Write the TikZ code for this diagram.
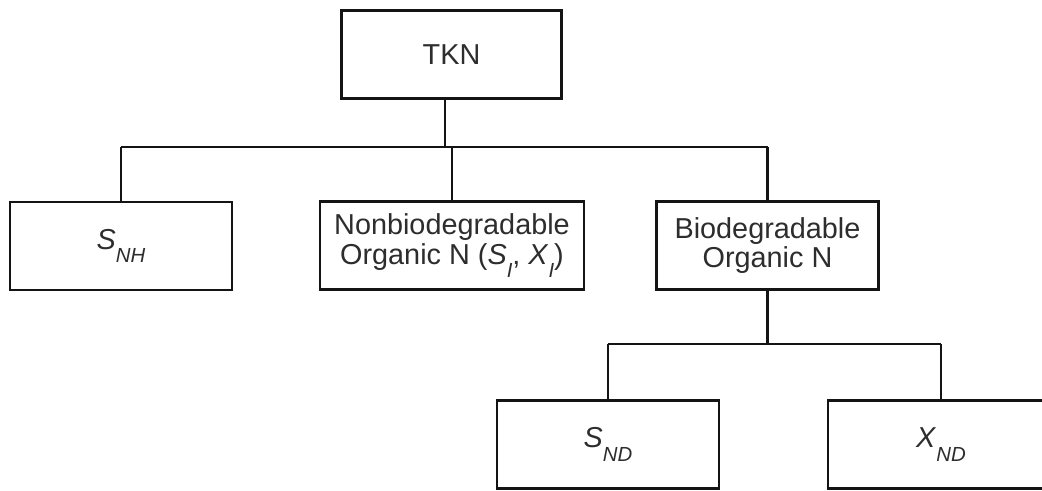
\documentclass[tikz,border=0pt]{standalone}
\usepackage{fontspec}
\setmainfont{Liberation Sans}
\usetikzlibrary{positioning,calc}
\definecolor{ink}{RGB}{20,20,20}
\definecolor{txt}{RGB}{45,45,45}
\newcommand{\lowsub}[1]{\raisebox{-9.5pt}{\fontsize{14.5}{15}\selectfont\itshape #1}}
\tikzset{
  blk/.style={draw=ink,line width=1.5pt,minimum height=2.2cm,inner sep=2pt,align=center,text=txt,
    font=\fontsize{20.5}{21}\selectfont},
  wire/.style={draw=ink,line width=1.5pt}
}

\begin{document}
\begin{tikzpicture}[x=0.025cm,y=0.025cm]
  \clip (0,0) rectangle (1042,-491);
  \node[blk,minimum width=5.5cm] (tkn) at (451.5,-54.5) {TKN};
  \node[blk,minimum width=5.55cm] (snh) at (121,-246) {\textit{S}\lowsub{NH}};
  \node[blk,minimum width=6.6cm] (nonbio) at (452,-245.5) {Nonbiodegradable\\Organic N (\textit{S}\lowsub{I}, \textit{X}\lowsub{I})};
  \node[blk,minimum width=5.55cm] (bio) at (767.5,-245.5) {Biodegradable\\Organic N};
  \node[blk,minimum width=5.55cm] (snd) at (608,-444.5) {\textit{S}\lowsub{ND}};
  \node[blk,minimum width=5.65cm] (xnd) at (941,-444.5) {\textit{X}\lowsub{ND}};

  \coordinate (bus) at (445,-147);
  \coordinate (bus2) at (770,-344);
  \draw[wire] (tkn.south -| bus) -- (bus);
  \draw[wire] (snh.north |- bus) -- (bio.north |- bus);
  \foreach \n in {snh,nonbio,bio}{\draw[wire] (\n.north) -- (\n.north |- bus);}
  \draw[wire] (bio.south) -- (bio.south |- bus2);
  \draw[wire] (snd.north |- bus2) -- (xnd.north |- bus2);
  \foreach \n in {snd,xnd}{\draw[wire] (\n.north) -- (\n.north |- bus2);}
\end{tikzpicture}
\end{document}
